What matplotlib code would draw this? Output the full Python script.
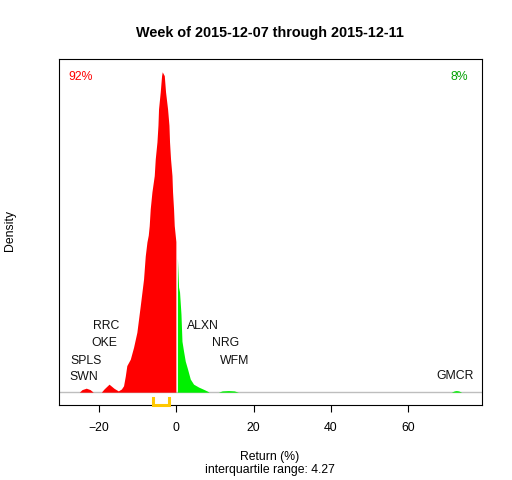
import matplotlib
matplotlib.use("Agg")
import matplotlib.pyplot as plt

plt.rcParams['font.family'] = ['Liberation Sans', 'DejaVu Sans']

# density of weekly returns (relative units)
neg_x = [-26.0, -25.1, -24.4, -23.3, -22.3, -21.5, -19.4, -18.7, -17.4, -16.1, -15.0, -14.2,
         -13.65, -13.2, -12.8, -11.9, -11.06, -10.2, -9.33, -8.47, -8.03, -7.59, -7.25,
         -7.0, -6.74, -6.3, -5.7, -5.44, -5.0, -4.74, -4.59, -4.15, -3.8, -3.63,
         -3.1, -2.77, -2.25, -1.89, -1.74, -1.48, -1.11, -0.96, -0.70, -0.52, -0.1]
neg_d = [0.0, 0.0, 0.008, 0.0125, 0.008, 0.0, 0.0, 0.01, 0.025, 0.012, 0.004, 0.01,
         0.02, 0.05, 0.083, 0.103, 0.14, 0.187, 0.269, 0.353, 0.425, 0.469, 0.49,
         0.52, 0.572, 0.625, 0.676, 0.728, 0.781, 0.833, 0.884, 0.937, 0.988, 1.0,
         0.988, 0.937, 0.884, 0.833, 0.781, 0.728, 0.676, 0.625, 0.572, 0.52, 0.47]
pos_x = [0.3, 0.6, 0.85, 1.22, 1.48, 1.89, 2.33, 2.93, 3.63, 4.48, 5.78, 7.07, 8.1, 8.5,
         10.9, 11.9, 13.5, 15.0, 16.1]
pos_d = [0.419, 0.328, 0.313, 0.244, 0.159, 0.128, 0.097, 0.072, 0.041, 0.025, 0.016,
         0.009, 0.003, 0.0, 0.0, 0.004, 0.005, 0.004, 0.0]
gmcr_x = [71.2, 72.0, 72.5, 73.1, 73.9]
gmcr_d = [0.0, 0.004, 0.005, 0.004, 0.0]

# labelled stocks
stock_names = ['SWN', 'SPLS', 'OKE', 'RRC', 'WFM', 'NRG', 'ALXN', 'GMCR']
stock_ret = [-24.0, -23.4, -18.5, -18.1, 15.0, 12.7, 6.9, 72.3]
label_row = [0.047, 0.097, 0.153, 0.206, 0.097, 0.153, 0.206, 0.05]

pct_down = '92%'
pct_up = '8%'
q1, q3 = -6.1, -1.83
iqr = 4.27

fig = plt.figure(figsize=(5.12, 4.8), dpi=100)
ax = fig.add_axes([59 / 512, 75 / 480, 423 / 512, 346 / 480])

dmax = max(neg_d)
ax.axhline(0, color='#BEBEBE', lw=1, zorder=1)
ax.fill_between(neg_x, 0, neg_d, color='#FF0000', lw=0, zorder=2)
ax.fill_between(pos_x, 0, pos_d, color='#00F000', lw=0, zorder=2)
ax.fill_between(gmcr_x, 0, gmcr_d, color='#00F000', lw=0, zorder=2)

for name, r, row in zip(stock_names, stock_ret, label_row):
    ax.text(r, row, name, ha='center', va='center', fontsize=8.8, color='#111111')

ax.text(0.021, 0.948, pct_down, transform=ax.transAxes, color='red',
        fontsize=8.8, ha='left', va='center')
ax.text(0.967, 0.948, pct_up, transform=ax.transAxes, color='#00A000',
        fontsize=8.8, ha='right', va='center')

# interquartile bracket under the baseline
yb = -0.04 * dmax
yt = -0.017 * dmax
ax.plot([q1, q1, q3, q3], [yt, yb, yb, yt], color='#FFC800', lw=2.2,
        clip_on=False, zorder=5, solid_joinstyle='miter')

ax.set_xlim(-30.36, 79.16)
ax.set_ylim(-0.04 * dmax, 1.04 * dmax)
ax.set_xticks([-20, 0, 20, 40, 60])
ax.set_yticks([])
ax.tick_params(axis='x', length=5, width=0.8, pad=7, labelsize=8.8)
for s in ax.spines.values():
    s.set_linewidth(0.8)

fig.text(270 / 512, 1 - 33 / 480, 'Week of 2015-12-07 through 2015-12-11',
         ha='center', va='center', fontsize=10.4, fontweight='bold')
fig.text(270 / 512, 1 - 457 / 480, 'Return (%)', ha='center', va='center', fontsize=8.8)
fig.text(270 / 512, 1 - 470 / 480, 'interquartile range: %.2f' % iqr,
         ha='center', va='center', fontsize=8.8)
fig.text(10 / 512, 1 - 230 / 480, 'Density', rotation=90, ha='center', va='center',
         fontsize=8.8)

fig.savefig('out.png', dpi=100)
